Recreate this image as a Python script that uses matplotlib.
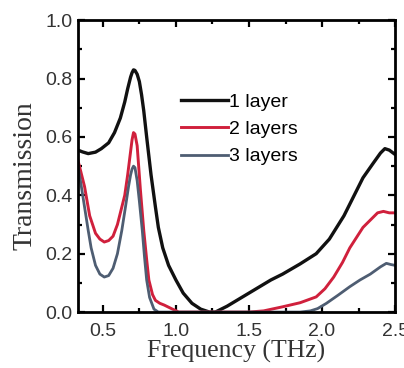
import matplotlib
matplotlib.use('Agg')
import matplotlib.pyplot as plt
from matplotlib.ticker import MultipleLocator

# frequency (THz) and transmission
f1 = [0.33, 0.36, 0.40, 0.45, 0.49, 0.54, 0.58, 0.62, 0.65, 0.67, 0.69, 0.70, 0.71, 0.72, 0.735, 0.75,
      0.765, 0.78, 0.80, 0.83, 0.86, 0.88, 0.91, 0.95, 1.00, 1.05, 1.11, 1.17, 1.23, 1.27, 1.35, 1.45,
      1.55, 1.65, 1.73, 1.85, 1.96, 2.05, 2.15, 2.28, 2.35, 2.40, 2.43, 2.46, 2.50]
t1 = [0.555, 0.549, 0.543, 0.548, 0.56, 0.58, 0.615, 0.665, 0.72, 0.765, 0.805, 0.82, 0.83, 0.828, 0.815, 0.79,
      0.745, 0.69, 0.60, 0.47, 0.36, 0.29, 0.22, 0.16, 0.11, 0.065, 0.03, 0.01, 0.0, 0.0, 0.02, 0.05,
      0.08, 0.11, 0.13, 0.165, 0.20, 0.25, 0.33, 0.46, 0.51, 0.545, 0.56, 0.555, 0.54]

f2 = [0.33, 0.35, 0.375, 0.41, 0.45, 0.48, 0.51, 0.54, 0.57, 0.60, 0.63, 0.65, 0.67, 0.69, 0.70, 0.71,
      0.72, 0.735, 0.757, 0.78, 0.80, 0.815, 0.84, 0.86, 0.89, 0.92, 0.977, 1.02, 1.20, 1.50, 1.60, 1.73,
      1.85, 1.96, 2.02, 2.08, 2.14, 2.19, 2.28, 2.38, 2.42, 2.46, 2.50]
t2 = [0.52, 0.48, 0.43, 0.33, 0.27, 0.25, 0.24, 0.245, 0.26, 0.30, 0.36, 0.40, 0.47, 0.55, 0.59, 0.615,
      0.61, 0.57, 0.42, 0.28, 0.18, 0.11, 0.06, 0.04, 0.03, 0.024, 0.01, 0.0, 0.0, 0.0, 0.004, 0.018,
      0.032, 0.052, 0.08, 0.12, 0.17, 0.22, 0.29, 0.34, 0.345, 0.34, 0.34]

f3 = [0.33, 0.35, 0.375, 0.40, 0.42, 0.45, 0.48, 0.51, 0.54, 0.57, 0.60, 0.63, 0.655, 0.676, 0.69, 0.70,
      0.71, 0.72, 0.735, 0.75, 0.77, 0.785, 0.80, 0.82, 0.85, 0.88, 1.50, 1.85, 1.92, 1.97, 2.03, 2.11,
      2.19, 2.26, 2.33, 2.40, 2.44, 2.47, 2.50]
t3 = [0.50, 0.44, 0.36, 0.28, 0.22, 0.16, 0.13, 0.12, 0.125, 0.15, 0.20, 0.28, 0.36, 0.43, 0.47, 0.49,
      0.50, 0.495, 0.45, 0.38, 0.28, 0.19, 0.11, 0.05, 0.01, 0.0, 0.0, 0.0, 0.004, 0.012, 0.03, 0.058,
      0.087, 0.11, 0.13, 0.155, 0.167, 0.163, 0.16]

labels = ['1 layer', '2 layers', '3 layers']
colors = ['#111111', '#d0203c', '#4e5d72']

fig = plt.figure(figsize=(4.04, 3.68), dpi=100)
ax = fig.add_axes([0.193, 0.152, 0.785, 0.793])

ax.plot(f1, t1, color=colors[0], lw=2.4, label=labels[0])
ax.plot(f2, t2, color=colors[1], lw=2.1, label=labels[1])
ax.plot(f3, t3, color=colors[2], lw=2.0, label=labels[2])

ax.set_xlim(0.33, 2.5)
ax.set_ylim(0.0, 1.0)
ax.xaxis.set_major_locator(MultipleLocator(0.5))
ax.xaxis.set_minor_locator(MultipleLocator(0.25))
ax.yaxis.set_major_locator(MultipleLocator(0.2))
ax.yaxis.set_minor_locator(MultipleLocator(0.1))
ax.tick_params(which='both', direction='in', top=True, right=True, width=1.6)
ax.tick_params(which='major', length=5, labelsize=14, labelcolor='#333333')
ax.tick_params(which='minor', length=3)
ax.tick_params(axis='x', which='major', pad=8)
ax.tick_params(axis='y', which='major', pad=4)
for lab in ax.get_xticklabels() + ax.get_yticklabels():
    lab.set_family('Liberation Sans')
for s in ax.spines.values():
    s.set_linewidth(2)

ax.set_xlabel('Frequency (THz)', family='Liberation Serif', fontsize=18.5, color='#333333')
ax.set_ylabel('Transmission', family='Liberation Serif', fontsize=20, color='#333333')
ax.xaxis.set_label_coords(0.5, -0.095)
ax.yaxis.set_label_coords(-0.128, 0.466)

ax.legend(loc='upper left', bbox_to_anchor=(0.27, 0.81), frameon=False, handlelength=2.4,
          handletextpad=0.05, labelspacing=0.5, prop={'family': 'Liberation Sans', 'size': 14})

fig.savefig('out.png', dpi=100)
